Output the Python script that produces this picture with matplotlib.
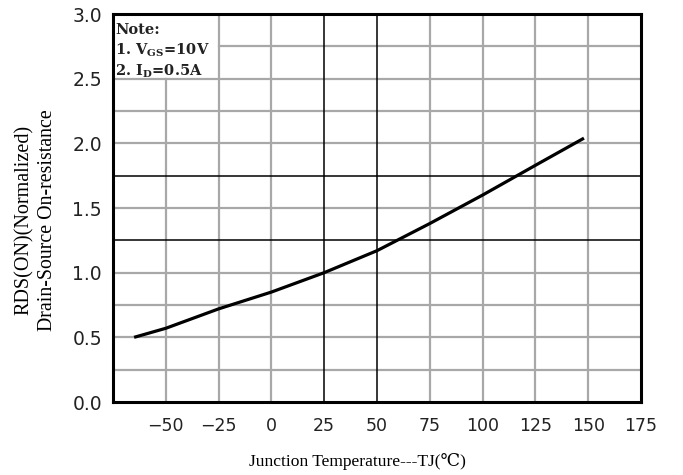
import matplotlib.pyplot as plt

# junction temperature (C) and normalized RDS(on)
temps = [-65, -50, -25, 0, 25, 50, 75, 100, 125, 148]
rds = [0.50, 0.57, 0.72, 0.85, 1.00, 1.17, 1.38, 1.60, 1.83, 2.04]

x_grid = [-75, -50, -25, 0, 25, 50, 75, 100, 125, 150, 175]
x_labels = ['', '\u221250', '\u221225', '0', '25', '50', '75', '100', '125', '150', '175']
y_grid = [0.0, 0.25, 0.5, 0.75, 1.0, 1.25, 1.5, 1.75, 2.0, 2.25, 2.5, 2.75, 3.0]
y_labels = ['0.0', '0.5', '1.0', '1.5', '2.0', '2.5', '3.0']
x_dark = [25, 50]
y_dark = [1.25, 1.75]

plt.rcParams['mathtext.fontset'] = 'custom'
plt.rcParams['mathtext.rm'] = 'DejaVu Serif:bold'

fig = plt.figure(figsize=(6.83, 4.75), dpi=100)
ax = fig.add_axes([113 / 683, 1 - 402 / 475, 528 / 683, 388 / 475])
ax.set_xlim(-75, 175)
ax.set_ylim(0, 3.0)

grey = '#a8a8a8'
# grey grid, leaving the note corner clear
for xv in x_grid[1:-1]:
    if xv in x_dark:
        continue
    top = 2.5 / 3.0 if xv == -50 else 1.0
    ax.axvline(xv, ymax=top, color=grey, lw=1.6, zorder=1)
for yv in y_grid[1:-1]:
    if yv in y_dark:
        continue
    left = 0.2 if yv == 2.75 else 0.0
    ax.axhline(yv, xmin=left, color=grey, lw=1.6, zorder=1)
for xv in x_dark:
    ax.axvline(xv, color='black', lw=1.1, zorder=2)
for yv in y_dark:
    ax.axhline(yv, color='black', lw=1.1, zorder=2)

ax.plot(temps, rds, color='black', lw=2.3, zorder=3, solid_capstyle='butt')

ax.text(-74, 2.93, 'Note:\n1. V$_{\\rm GS}$=10V\n2. I$_{\\rm D}$=0.5A',
        fontsize=10.5, fontweight='bold', family='DejaVu Serif',
        va='top', ha='left', linespacing=1.3, zorder=4, color='#222222')

ax.set_xticks(x_grid)
ax.set_xticklabels(x_labels)
ax.set_yticks([float(v) for v in y_labels])
ax.set_yticklabels(y_labels)
ax.tick_params(length=0, labelsize=12.5, colors='#222222')
ax.tick_params(axis='x', pad=11)
ax.tick_params(axis='y', pad=8, labelsize=13.5)
for s in ax.spines.values():
    s.set_linewidth(2.2)
    s.set_color('black')

fig.text(24 / 683, 1 - 220 / 475, 'RDS(ON)(Normalized)', rotation=90,
         ha='center', va='center', fontsize=14.5, family='Liberation Serif')
fig.text(48 / 683, 1 - 220 / 475, 'Drain-Source On-resistance', rotation=90,
         ha='center', va='center', fontsize=14.3, family='Liberation Serif')
fig.text(357 / 683, 1 - 461 / 475, 'Junction Temperature---TJ(\u2103)',
         ha='center', va='center', fontsize=12.6,
         family=['Liberation Serif', 'DejaVu Serif'])

fig.savefig('out.png', dpi=100)
